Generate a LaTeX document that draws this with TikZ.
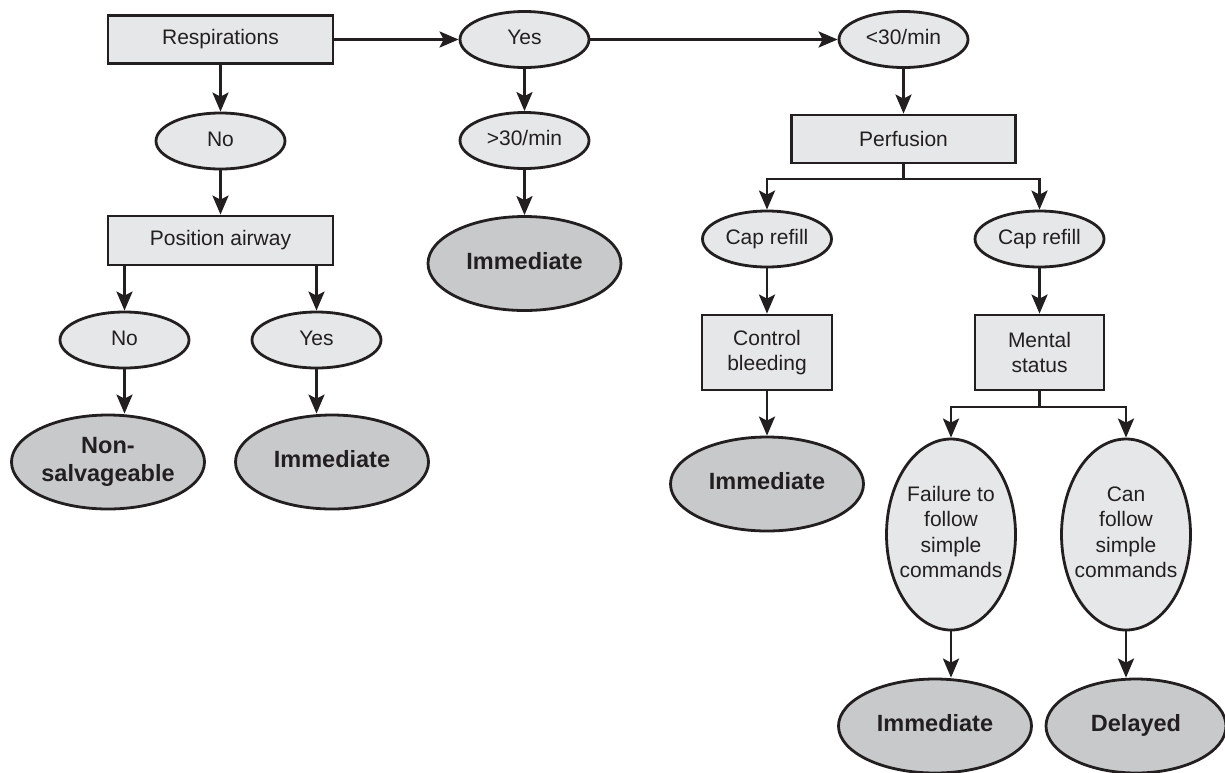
\documentclass[tikz,border=0pt]{standalone}
\usepackage{fontspec}
\setmainfont{Liberation Sans}
\usetikzlibrary{shapes.geometric,arrows.meta}

\definecolor{ink}{HTML}{231F20}
\definecolor{paleFill}{HTML}{E6E7E8}
\definecolor{darkFill}{HTML}{C8C9CB}

% text in a zero-width box, so that an ellipse keeps the size it is given
\newcommand{\ztext}[1]{\makebox[0pt]{\begin{tabular}{@{}c@{}}#1\end{tabular}}}

\begin{document}
\begin{tikzpicture}[x=1pt,y=-1pt,
  base/.style={draw=ink, line width=2.8pt, text=ink, inner sep=0pt},
  stepbox/.style={base, rectangle, fill=paleFill, align=center,
    font=\fontsize{21}{25.2}\selectfont},
  choice/.style={base, ellipse, fill=paleFill, minimum width=129pt,
    minimum height=56pt, font=\fontsize{21}{25.2}\selectfont},
  tall/.style={choice, minimum height=191pt},
  outcome/.style={base, ellipse, fill=darkFill, minimum width=193pt,
    minimum height=94pt, font=\bfseries\fontsize{23.5}{27.5}\selectfont},
  link/.style={draw=ink, line width=2.8pt},
  flow/.style={link, -{Stealth[length=19pt,width=16pt,inset=4pt]}}
]
\useasboundingbox (0,0) rectangle (1225,772);

% top row
\node[stepbox, minimum width=225pt, minimum height=48pt] (resp) at (220.5,39.5) {Respirations};
\node[choice] (yesA) at (524.5,39.5) {\ztext{Yes}};
\node[choice] (slow) at (903.5,39.5) {\ztext{<30/min}};

% left branch: no breathing
\node[choice] (noA) at (220.5,141) {\ztext{No}};
\node[stepbox, minimum width=225pt, minimum height=49pt] (airway) at (220.5,240.5) {Position airway};
\node[choice] (noB) at (124.5,340) {\ztext{No}};
\node[choice] (yesB) at (316.5,340) {\ztext{Yes}};
\node[outcome] (nonsalv) at (108,462) {\ztext{Non-\\salvageable}};
\node[outcome] (immB) at (332,462) {\ztext{Immediate}};

% middle branch: fast breathing
\node[choice] (fast) at (524.5,140.5) {\ztext{>30/min}};
\node[outcome] (immA) at (524.5,263.5) {\ztext{Immediate}};

% right branch: perfusion and mental status
\node[stepbox, minimum width=224pt, minimum height=48pt] (perf) at (903.5,139) {Perfusion};
\coordinate (splitR) at (903.5,179);
\node[choice] (capA) at (767,239) {\ztext{Cap refill}};
\node[choice] (capB) at (1039.5,239) {\ztext{Cap refill}};
\node[stepbox, minimum width=130pt, minimum height=75pt] (bleed) at (767,352.5) {Control\\bleeding};
\node[stepbox, minimum width=129pt, minimum height=75pt] (mental) at (1039.5,352.5) {Mental\\status};
\node[outcome] (immC) at (767,484) {\ztext{Immediate}};
\coordinate (splitM) at (1039.5,407);
\node[tall] (fail) at (951,534.5) {\ztext{Failure to\\follow\\simple\\commands}};
\node[tall] (can) at (1126,534.5) {\raisebox{5pt}{\ztext{Can\\follow\\simple\\commands}}};
\node[outcome] (immD) at (935,726) {\ztext{Immediate}};
\node[outcome, minimum width=180pt] (late) at (1136,726) {\ztext{Delayed}};

% connectors
\path[flow] (resp.east) -- (yesA.west);
\path[flow] (yesA.east) -- (slow.west);
\path[flow] (resp.south) -- (noA.north);
\path[flow] (yesA.south) -- (fast.north);
\path[flow] (fast.south) -- (immA.north);
\path[flow] (noA.south) -- (airway.north);
\path[flow] (airway.south -| noB.north) -- (noB.north);
\path[flow] (airway.south -| yesB.north) -- (yesB.north);
\path[flow] (noB.south) -- (noB.south |- nonsalv.north);
\path[flow] (yesB.south) -- (yesB.south |- immB.north);
\path[flow] (slow.south) -- (perf.north);
\path[link] (perf.south) -- (splitR);
\path[flow] (splitR) -| (capA.north);
\path[flow] (splitR) -| (capB.north);
\path[flow] (capA.south) -- (bleed.north);
\path[flow] (bleed.south) -- (immC.north);
\path[flow] (capB.south) -- (mental.north);
\path[link] (mental.south) -- (splitM);
\path[flow] (splitM) -| (fail.north);
\path[flow] (splitM) -| (can.north);
\path[flow] (fail.south) -- (fail.south |- immD.north);
\path[flow] (can.south) -- (can.south |- late.north);
\end{tikzpicture}
\end{document}
